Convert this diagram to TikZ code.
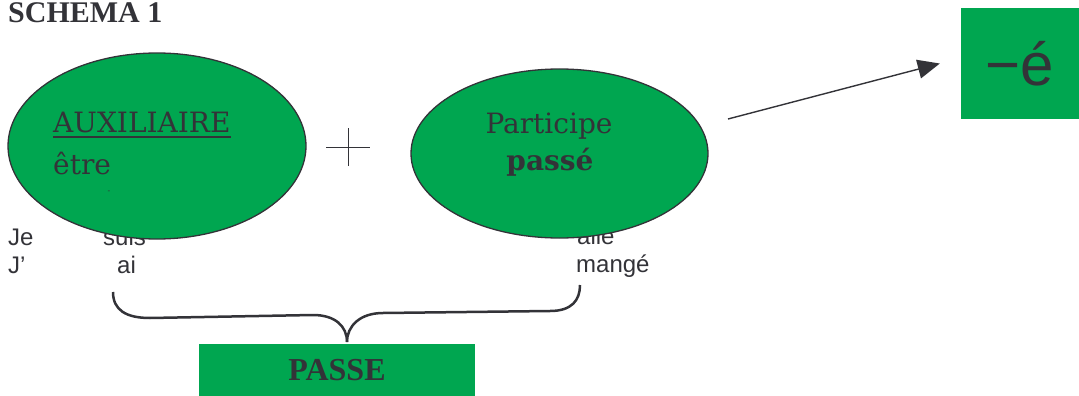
\documentclass[tikz,border=0pt]{standalone}
\usepackage{fontspec}
\newfontfamily\dejaserif{DejaVu Serif}
\newfontfamily\arialfont{Liberation Sans}
\newfontfamily\timesfont{Liberation Serif}
\usetikzlibrary{shapes.geometric,arrows.meta}
\definecolor{vert}{RGB}{0,166,80}
\definecolor{encre}{RGB}{51,51,56}
\tikzset{>={Triangle[length=22pt,width=19pt]}}
\tikzset{bulle/.style={ellipse,draw=encre,fill=vert,line width=1.3pt,inner sep=0pt}}
\tikzset{mot/.style={text=encre,inner sep=0pt,anchor=base west,font=\arialfont\fontsize{24}{28}\selectfont}}
\tikzset{titre/.style={text=encre,inner sep=0pt,font=\dejaserif\fontsize{28}{32}\selectfont}}
\tikzset{cadre/.style={fill=vert,inner sep=0pt,text=encre}}

\begin{document}
\begin{tikzpicture}[x=1pt,y=-1pt]
				\useasboundingbox (0,0) rectangle (1079,396);
				\node [text=encre,inner sep=0pt,anchor=base west,font=\timesfont\bfseries\fontsize{30}{34}\selectfont] (schema) at (8,23) {SCHEMA 1};
				% pronoms et verbes, sous les bulles
				\node [mot] (je) at (8,245) {Je};
				\node [mot] (suis) at (103,245) {suis};
				\node [mot] (japo) at (8,273) {J’};
				\node [mot] (ai) at (117,273) {ai};
				\node [mot] (alle) at (577,244) {allé};
				\node [mot] (mange) at (576,272) {mangé};
				% les deux bulles
				\node [bulle,minimum width=298pt,minimum height=186pt] (aux) at (157,146) {};
				\node [bulle,minimum width=297pt,minimum height=169pt] (part) at (559.5,153.5) {};
				\node [titre,anchor=base west] (auxtxt) at (53,132) {AUXILIAIRE};
				\draw [encre,line width=1.3pt] ([yshift=-5pt]auxtxt.base west) -- ([yshift=-5pt]auxtxt.base east);
				\node [titre,anchor=base west] (etre) at (53,174) {être};
				\node [text=encre,inner sep=0pt,font=\arialfont\fontsize{8}{8}\selectfont] (tiret) at (109,192) {-};
				\node [titre,anchor=base] (participe) at (549,133) {Participe};
				\node [titre,anchor=base,font=\dejaserif\bfseries\fontsize{28}{32}\selectfont] (passe) at (550,170) {passé};
				% le signe plus
				\coordinate (plus) at (348,147);
				\draw [encre,line width=1pt] ([xshift=-22pt]plus) -- ([xshift=22pt]plus);
				\draw [encre,line width=1pt] ([yshift=-19pt]plus) -- ([yshift=19pt]plus);
				% terminaison
				\node [cadre,minimum width=118pt,minimum height=111pt,font=\arialfont\fontsize{60}{60}\selectfont] (fin) at (1020,63.5) {−é};
				\coordinate (depart) at (728,119);
				\draw [->,encre,line width=1.4pt] (depart) -- ([xshift=-21pt]fin.west);
				% accolade et passe
				\node [cadre,minimum width=276pt,minimum height=53pt,font=\timesfont\bfseries\fontsize{32}{32}\selectfont] (passebox) at (337,370.5) {PASSE};
				\coordinate (pointe) at (347,342);
				\draw [encre,line width=2.5pt] (113,292) .. controls (113,310) and (126,318) .. (150,318) -- (313,315) .. controls (335,315) and (347,326) .. (pointe);
				\draw [encre,line width=2.5pt] (pointe) .. controls (347,326) and (360,313) .. (383,313) -- (550,311) .. controls (572,311) and (580,300) .. (580,285);
\end{tikzpicture}
\end{document}
